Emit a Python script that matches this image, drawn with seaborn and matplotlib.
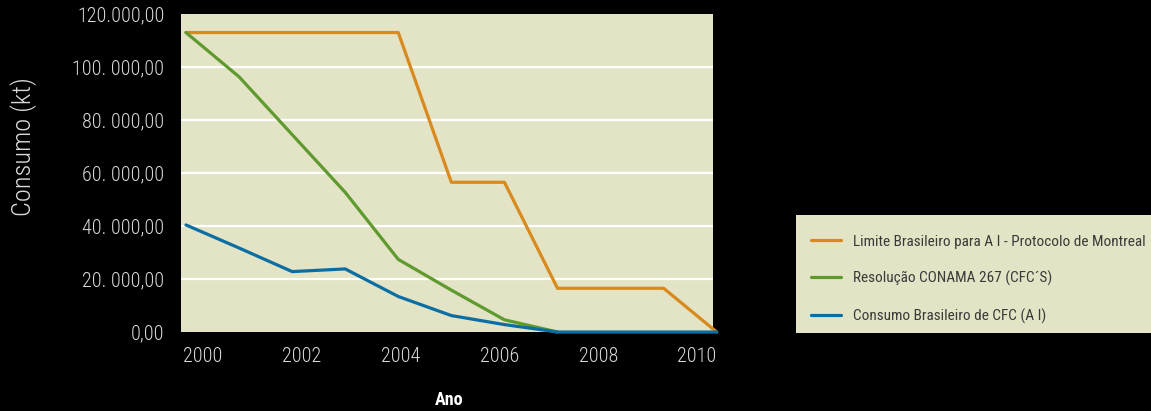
import matplotlib
matplotlib.use("Agg")
import matplotlib.pyplot as plt
import seaborn as sns
import pandas as pd
import numpy as np
from matplotlib.patches import Rectangle

# ---- data ----
years = [2000, 2001, 2002, 2003, 2004, 2005, 2006, 2007, 2008, 2009, 2010]
limite = [113000, 113000, 113000, 113000, 113000, 56500, 56500, 16500, 16500, 16500, 0]
conama = [113000, 96300, 74500, 52700, 27400, 15800, 4600, 0, None, None, None]
consumo = [40400, 31700, 22800, 23800, 13400, 6200, 2800, 0, 0, 0, 0]
series_names = ["Limite Brasileiro para A I - Protocolo de Montreal",
                "Resolução CONAMA 267 (CFC´S)",
                "Consumo Brasileiro de CFC (A I)"]
colors = ["#D98A1F", "#5F9A2F", "#0B6EA3"]
ytick_vals = [0, 20000, 40000, 60000, 80000, 100000, 120000]
ytick_labels = ["0,00", "20. 000,00", "40. 000,00", "60. 000,00", "80. 000,00", "100. 000,00", "120.000,00"]
xtick_labels = ["2000", "2002", "2004", "2006", "2008", "2010"]

rows = []
for name, vals in zip(series_names, [limite, conama, consumo]):
    for y, v in zip(years, vals):
        if v is not None:
            rows.append({"Ano": y, "Consumo": v, "Serie": name})
df = pd.DataFrame(rows)

sns.set_theme(style="white")
plt.rcParams['font.family'] = ['Roboto Condensed', 'DejaVu Sans']

fig = plt.figure(figsize=(11.51, 4.11), dpi=100)
fig.patch.set_facecolor("black")
ax = fig.add_axes([181/1151, 1-332/411, (713-181)/1151, (332-14)/411])
ax.set_facecolor("#E3E3C5")

sns.lineplot(data=df, x="Ano", y="Consumo", hue="Serie", hue_order=series_names,
             palette=dict(zip(series_names, colors)), linewidth=2.3, ax=ax,
             legend=True, clip_on=False)

ax.set_ylim(0, 120000)
ax.set_xlim(1999.906, 2009.93)
ax.set_yticks(ytick_vals)
ax.set_yticklabels(ytick_labels)
# tick labels in the source sit on a slightly different spacing than the data points
ax.set_xticks([2000.32 + 1.862 * i for i in range(len(xtick_labels))])
ax.set_xticklabels(xtick_labels)
ax.tick_params(axis="both", length=0, colors="#DADADA", labelsize=14.5)
ax.tick_params(axis="y", pad=12)
ax.tick_params(axis="x", pad=11)
for lab in ax.get_xticklabels() + ax.get_yticklabels():
    lab.set_fontweight("light")
for s in ax.spines.values():
    s.set_visible(False)
ax.yaxis.grid(True, color="white", linewidth=1.6)
ax.set_axisbelow(True)
gl = ax.get_ygridlines()
gl[0].set_visible(False)
gl[-1].set_visible(False)

ax.set_xlabel("")
ax.set_ylabel("")
fig.text(449/1151, 1-400/411, "Ano", ha="center", va="center", color="white",
         fontsize=13, fontweight="bold")
fig.text(24/1151, 1-147/411, "Consumo (kt)", ha="center", va="center", color="#DADADA",
         fontsize=19, fontweight="light", rotation=90)

# legend
handles, labels = ax.get_legend_handles_labels()
ax.get_legend().remove()
fig.patches.append(Rectangle((796/1151, 1-333/411), 1-796/1151, (333-215)/411,
                             transform=fig.transFigure, facecolor="#E3E3C5",
                             edgecolor="none", zorder=0))
leg = fig.legend(handles, labels, loc="upper left",
                 bbox_to_anchor=(797/1151, 1-221/411), frameon=False,
                 fontsize=11, labelcolor="#3A3A3A", handlelength=2.0,
                 handletextpad=0.75, labelspacing=1.45)
for h in leg.get_lines():
    h.set_linewidth(2.3)

fig.savefig("out.png", dpi=100, facecolor="black")
